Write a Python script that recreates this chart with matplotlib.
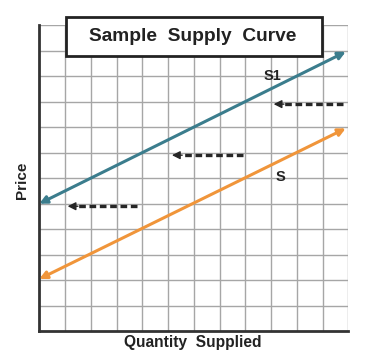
import matplotlib.pyplot as plt
from matplotlib.patches import Rectangle

plt.rcParams["font.family"] = ["Liberation Sans", "DejaVu Sans"]

# grid 12 x 12
n_cells = 12

# supply curves (start, end) in grid units
s1_x = [0.0, 11.9]
s1_y = [5.0, 10.95]
s_x = [0.0, 11.9]
s_y = [2.05, 7.95]

# dashed shift arrows: (x_start, x_tip, y)
shift_x0 = [11.8, 7.9, 3.8]
shift_x1 = [9.1, 5.15, 1.1]
shift_y = [8.9, 6.9, 4.9]

labels = ["S1", "S"]
label_x = [9.05, 9.35]
label_y = [10.0, 6.03]

teal = "#3b7d8d"
orange = "#f0953a"

fig = plt.figure(figsize=(3.9, 3.55), dpi=100)
ax = fig.add_axes([39.3 / 390, 1 - 331.3 / 355, 309 / 390, 306.3 / 355])
ax.set_xlim(0, n_cells)
ax.set_ylim(0, n_cells)

for i in range(1, n_cells + 1):
    ax.axvline(i, color="#a6a6a6", lw=1.0, zorder=1)
    ax.axhline(i, color="#a6a6a6", lw=1.0, zorder=1)

ax.set_xticks([])
ax.set_yticks([])
for side in ["top", "right"]:
    ax.spines[side].set_visible(False)
for side in ["left", "bottom"]:
    ax.spines[side].set_color("#333333")
    ax.spines[side].set_linewidth(2.0)


def double_arrow(xs, ys, color):
    ax.annotate("", xy=(xs[1], ys[1]), xytext=(xs[0], ys[0]),
                arrowprops=dict(arrowstyle="<|-|>", color=color, lw=2.2,
                                mutation_scale=11, shrinkA=0, shrinkB=0),
                zorder=3)


double_arrow(s1_x, s1_y, teal)
double_arrow(s_x, s_y, orange)

for x0, x1, y in zip(shift_x0, shift_x1, shift_y):
    ax.plot([x0, x1 + 0.35], [y, y], color="#262626", lw=2.4,
            dashes=(2.0, 1.1), zorder=3, solid_capstyle="butt")
    ax.annotate("", xy=(x1, y), xytext=(x1 + 0.4, y),
                arrowprops=dict(arrowstyle="-|>", color="#262626", lw=1,
                                mutation_scale=12, shrinkA=0, shrinkB=0),
                zorder=3)

for t, x, y in zip(labels, label_x, label_y):
    ax.text(x, y, t, ha="center", va="center", fontsize=10.5,
            fontweight="bold", color="#222222", zorder=4)

# title box
box = Rectangle((65.7 / 390, 1 - 55.7 / 355), (322.3 - 65.7) / 390,
                (55.7 - 16.7) / 355, transform=fig.transFigure,
                facecolor="white", edgecolor="#222222", lw=2.0, zorder=5)
fig.patches.append(box)
fig.text(193 / 390, 1 - 36.5 / 355, "Sample  Supply  Curve", ha="center",
         va="center", fontsize=13.8, fontweight="bold", color="#222222",
         zorder=6)

fig.text(193 / 390, 1 - 342 / 355, "Quantity  Supplied", ha="center",
         va="center", fontsize=11.2, fontweight="bold", color="#222222")
fig.text(21.7 / 390, 1 - 180 / 355, "Price", ha="center", va="center",
         rotation=90, fontsize=11, fontweight="bold", color="#222222")

fig.savefig("out.png", dpi=100, facecolor="white")
